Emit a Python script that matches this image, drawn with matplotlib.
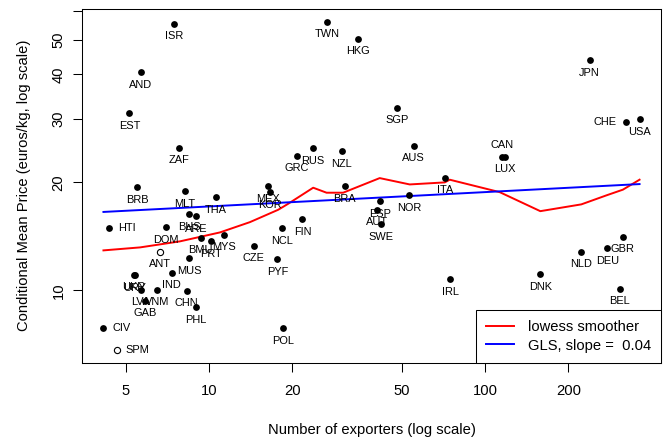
import numpy as np
import matplotlib.pyplot as plt

plt.rcParams['font.family'] = ['Liberation Sans', 'DejaVu Sans']

# destination markets: mean number of exporters and conditional mean price (euros/kg)
countries = ['ISR', 'TWN', 'HKG', 'AND', 'EST', 'SGP', 'JPN', 'CHE', 'USA',
             'ZAF', 'GRC', 'RUS', 'NZL', 'AUS', 'CAN', 'LUX', 'ITA', 'BRB',
             'MLT', 'THA', 'MEX', 'KOR', 'BRA', 'NOR', 'ESP', 'AUT', 'SWE',
             'HTI', 'BHS', 'ARE', 'DOM', 'MYS', 'BMU', 'PRT', 'CZE', 'NCL',
             'FIN', 'ANT', 'MUS', 'PYF', 'IND', 'UKR', 'URY', 'LVA', 'VNM',
             'GAB', 'CHN', 'PHL', 'CIV', 'SPM', 'POL', 'IRL', 'DNK', 'NLD',
             'DEU', 'GBR', 'BEL']
exporters = [7.49, 26.7, 34.5, 5.66, 5.15, 47.9, 238.8, 324.0, 362.0,
             7.81, 20.8, 23.8, 30.3, 55.1, 114.7, 117.6, 71.4, 5.50,
             8.17, 10.6, 16.3, 16.6, 31.0, 53.0, 41.5, 40.7, 41.8,
             4.35, 8.49, 8.97, 6.99, 11.3, 9.33, 10.17, 14.5, 18.4,
             21.8, 6.67, 8.49, 17.7, 7.33, 5.35, 5.38, 5.66, 6.49,
             5.87, 8.30, 8.95, 4.15, 4.65, 18.5, 74.8, 158.3, 222.0,
             276.7, 314.3, 307.3]
price = [55.4, 56.1, 50.2, 40.5, 31.2, 32.3, 43.8, 29.5, 30.0,
         25.0, 23.7, 24.9, 24.4, 25.3, 23.6, 23.6, 20.6, 19.4,
         18.9, 18.2, 19.5, 18.8, 19.5, 18.4, 17.7, 16.8, 15.3,
         14.9, 16.3, 16.1, 15.0, 14.3, 14.0, 13.7, 13.3, 14.9,
         15.8, 12.8, 12.3, 12.2, 11.2, 11.07, 11.04, 10.04, 10.06,
         9.36, 9.98, 8.98, 7.87, 6.83, 7.84, 10.75, 11.1, 12.8,
         13.1, 14.1, 10.1]

hollow = ['ANT', 'SPM']
label_side = {'HTI': 'right', 'CIV': 'right', 'SPM': 'right',
              'CHE': 'left', 'CAN': 'above'}

# lowess fit of price on exporters
lowess_x = [4.15, 5.63, 7.85, 10.96, 14.07, 17.81, 19.36, 23.84, 26.65,
            30.6, 41.5, 53.3, 71.4, 74.4, 112.8, 158.3, 222.8, 274.4,
            315.1, 362.0]
lowess_y = [12.93, 13.18, 13.70, 14.51, 15.50, 16.78, 17.44, 19.33, 18.72,
            18.72, 20.56, 19.74, 20.0, 20.35, 18.79, 16.63, 17.37, 18.40,
            19.09, 20.35]

# GLS fit in log10-log10
gls_slope = 0.04
gls_intercept = 1.194

x = np.array(exporters)
y = np.array(price)
filled = np.array([c not in hollow for c in countries])

fig = plt.figure(figsize=(6.7, 4.41), dpi=100)
ax = fig.add_axes([82 / 670, 1 - 363 / 441, 579 / 670, 354.5 / 441])
ax.set_xscale('log')
ax.set_yscale('log')

ax.scatter(x[filled], y[filled], s=24, c='black', linewidths=0, zorder=3)
ax.scatter(x[~filled], y[~filled], s=20, facecolors='white',
           edgecolors='black', linewidths=0.8, zorder=3)

offsets = {'below': ((0, -9), 'center', 'center'),
           'right': ((6.3, 0), 'left', 'center'),
           'left': ((-7.2, 0), 'right', 'center'),
           'above': ((0, 8), 'center', 'center')}
for c, xi, yi in zip(countries, x, y):
    off, ha, va = offsets[label_side.get(c, 'below')]
    ax.annotate(c, (xi, yi), xytext=off, textcoords='offset points',
                ha=ha, va=va, fontsize=7.9, zorder=4)

ax.plot(lowess_x, lowess_y, color='red', lw=1.4, label='lowess smoother')
gx = np.array([x.min(), x.max()])
gy = 10 ** (gls_intercept + gls_slope * np.log10(gx))
ax.plot(gx, gy, color='blue', lw=1.4,
        label='GLS, slope =  %.2f' % gls_slope)

# R-style 4% padding of the log ranges
lx = np.log10([x.min(), x.max()])
ly = np.log10([y.min(), y.max()])
px = 0.04 * (lx[1] - lx[0])
py = 0.04 * (ly[1] - ly[0])
ax.set_xlim(10 ** (lx[0] - px), 10 ** (lx[1] + px))
ax.set_ylim(10 ** (ly[0] - py), 10 ** (ly[1] + py))

ax.set_xticks([5, 10, 20, 50, 100, 200])
ax.set_xticklabels(['5', '10', '20', '50', '100', '200'])
ax.set_yticks([10, 20, 30, 40, 50, 60])
ax.set_yticklabels(['10', '20', '30', '40', '50', ''], rotation=90,
                   va='center')
ax.minorticks_off()
ax.tick_params(length=6.3, width=0.75, labelsize=10.65, pad=9)
ax.tick_params(axis='y', pad=5.5)
for sp in ax.spines.values():
    sp.set_linewidth(0.75)

ax.set_xlabel('Number of exporters (log scale)', fontsize=10.65, labelpad=18)
ax.set_ylabel('Conditional Mean Price (euros/kg, log scale)', fontsize=10.65,
              labelpad=15)

leg = ax.legend(loc='lower right', borderaxespad=0, fancybox=False,
                edgecolor='black', framealpha=1, fontsize=10.65,
                handlelength=1.9, handletextpad=0.9, borderpad=0.7,
                labelspacing=0.3)
leg.get_frame().set_linewidth(0.75)

fig.savefig('out.png', dpi=100)
